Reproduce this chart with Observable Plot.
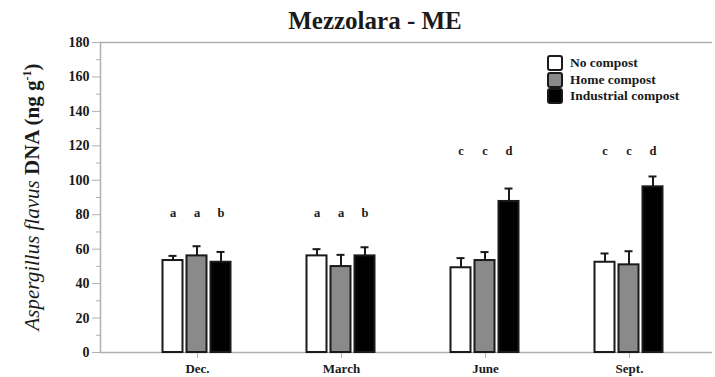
<!DOCTYPE html>
<html>
<head>
<meta charset="utf-8">
<script src="https://cdn.jsdelivr.net/npm/d3@7"></script>
<script src="https://cdn.jsdelivr.net/npm/@observablehq/plot@0.6"></script>
<style>
  body { margin: 0; background: #fff; }
  #wrap { position: relative; width: 715px; height: 377px; font-family: 'Liberation Serif', serif; color: #1a1a1a; }
  #title { position: absolute; left: 275px; top: 7px; width: 200px; text-align: center; font-family: 'Liberation Serif', serif; font-size: 25px; font-weight: bold; white-space: nowrap; }
  #ylab { position: absolute; left: 32px; top: 197px; transform: translate(-50%, -50%) rotate(-90deg); font-family: 'Liberation Serif', serif; font-size: 21px; white-space: nowrap; }
  #ylab i { font-style: italic; }
  #ylab b { font-weight: bold; }
  #legend { position: absolute; left: 547px; top: 55px; font-family: 'Liberation Serif', serif; font-size: 13.5px; font-weight: bold; }
  .row { display: flex; align-items: center; height: 16.5px; }
  .sw { width: 12px; height: 12px; border: 2px solid #1a1a1a; border-radius: 3px; margin-right: 7px; box-sizing: content-box; }
  #chart svg text { font-family: 'Liberation Serif', serif; }
</style>
</head>
<body>
<div id="wrap">
  <div id="chart"></div>
  <div id="title">Mezzolara - ME</div>
  <div id="ylab"><i>Aspergillus flavus</i> <b>DNA (ng g<sup style="font-size:12px">-1</sup>)</b></div>
  <div id="legend"></div>
</div>
<script>
const months = ["Dec.", "March", "June", "Sept."];
const groups = ["No compost", "Home compost", "Industrial compost"];
const colors = ["#ffffff", "#8a8a8a", "#000000"];
const noCompost = [53.4, 56.1, 49.2, 52.4];
const noCompostErr = [2.7, 3.9, 5.6, 5.1];
const homeCompost = [56.1, 49.9, 53.4, 50.9];
const homeCompostErr = [5.6, 6.8, 4.9, 7.9];
const industrialCompost = [52.4, 56.1, 87.7, 96.2];
const industrialCompostErr = [6.0, 5.0, 7.5, 6.0];
const letters = [["a", "a", "b"], ["a", "a", "b"], ["c", "c", "d"], ["c", "c", "d"]];
const letterHeight = [81, 81, 117, 117];
const yTicks = [0, 20, 40, 60, 80, 100, 120, 140, 160, 180];
const yMinorTicks = [10, 30, 50, 70, 90, 110, 130, 150, 170];

const series = [noCompost, homeCompost, industrialCompost];
const errs = [noCompostErr, homeCompostErr, industrialCompostErr];
const data = [];
groups.forEach((g, gi) => months.forEach((m, mi) => data.push({
  month: m, group: g, gi, value: series[gi][mi], err: errs[gi][mi],
  letter: letters[mi][gi], ly: letterHeight[mi]
})));

const FONT = "'Liberation Serif', serif";
const step = 24;
const marks = [
  Plot.frame({anchor: "left", stroke: "#b0b0b0", strokeWidth: 1.5}),
  Plot.ruleY([0, 180], {stroke: "#b0b0b0", strokeWidth: 1.5}),
  Plot.axisY({ticks: yTicks, tickSize: 8, tickPadding: 3, stroke: "#b0b0b0", fill: "#1a1a1a", label: null, fontSize: 14, fontWeight: "bold", fontFamily: FONT}),
  Plot.axisY({ticks: yMinorTicks, tickSize: 4, stroke: "#b0b0b0", tickFormat: () => "", label: null}),
  Plot.axisX({tickSize: 6, tickPadding: 5, stroke: "#b0b0b0", fill: "#1a1a1a", label: null, fontSize: 13, fontWeight: "bold", fontFamily: FONT})
];
groups.forEach((g, gi) => {
  const d = data.filter(r => r.gi === gi);
  const dx = (gi - 1) * step - 0.5;
  marks.push(
    Plot.ruleX(d, {x: "month", y1: "value", y2: r => r.value + r.err, stroke: "#1a1a1a", strokeWidth: 2, dx}),
    Plot.tickY(d, {x: "month", y: r => r.value + r.err, stroke: "#1a1a1a", strokeWidth: 2, insetLeft: 68, insetRight: 68, dx}),
    Plot.barY(d, {x: "month", y: "value", fill: colors[gi], stroke: "#1a1a1a", strokeWidth: 2, insetLeft: 62, insetRight: 62, dx}),
    Plot.text(d, {x: "month", y: "ly", text: "letter", dx, fontSize: 12.5, fontWeight: "bold", fill: "#1a1a1a", fontFamily: FONT})
  );
});

const chart = Plot.plot({
  width: 715,
  height: 377,
  marginLeft: 100,
  marginRight: 3,
  marginTop: 42,
  marginBottom: 25,
  style: {fontFamily: FONT, background: "white", color: "#1a1a1a"},
  x: {domain: months, range: [125, 701], padding: 0, axis: null},
  y: {domain: [0, 180], axis: null},
  marks
});
document.getElementById("chart").appendChild(chart);

const legend = document.getElementById("legend");
groups.forEach((g, gi) => {
  const row = document.createElement("div");
  row.className = "row";
  const sw = document.createElement("div");
  sw.className = "sw";
  sw.style.background = colors[gi];
  row.appendChild(sw);
  const t = document.createElement("span");
  t.textContent = g;
  row.appendChild(t);
  legend.appendChild(row);
});
</script>
</body>
</html>
